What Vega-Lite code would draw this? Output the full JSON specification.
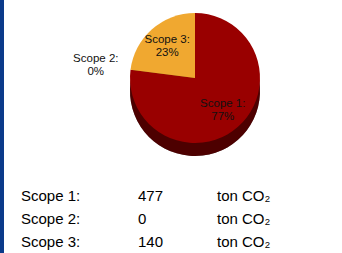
{
  "$schema": "https://vega.github.io/schema/vega-lite/v6.json",
  "padding": 0,
  "background": "white",
  "datasets": {
    "scopes": [
      {"scope": "Scope 1", "label": "Scope 1:", "share": 0.77, "tons": 477},
      {"scope": "Scope 2", "label": "Scope 2:", "share": 0.0, "tons": 0},
      {"scope": "Scope 3", "label": "Scope 3:", "share": 0.23, "tons": 140}
    ]
  },
  "config": {"view": {"stroke": null}, "font": "Liberation Sans"},
  "spacing": 0,
  "hconcat": [
    {
      "width": 4,
      "height": 253,
      "view": {"fill": "#0B3A8A", "stroke": null},
      "data": {"values": [{}]},
      "mark": {"type": "rect", "color": "#0B3A8A"},
      "encoding": {}
    },
    {
      "spacing": 28,
      "vconcat": [
        {
          "spacing": 0,
          "hconcat": [
            {
              "width": 44,
              "height": 156,
              "data": {"values": [{}]},
              "mark": {"type": "rect", "opacity": 0},
              "encoding": {}
            },
            {
              "width": 294,
              "height": 156,
              "data": {"name": "scopes"},
              "layer": [
                {
                  "mark": {"type": "arc", "radius": 65, "yOffset": 13, "fill": "#000000"},
                  "encoding": {
                    "theta": {"field": "share", "type": "quantitative", "stack": true},
                    "order": {"field": "scope"}
                  }
                },
                {
                  "mark": {"type": "arc", "radius": 65, "yOffset": 13, "fillOpacity": 0.5},
                  "encoding": {
                    "theta": {"field": "share", "type": "quantitative", "stack": true},
                    "order": {"field": "scope"},
                    "color": {
                      "field": "scope",
                      "type": "nominal",
                      "scale": {"domain": ["Scope 1", "Scope 2", "Scope 3"], "range": ["#990000", "#4F6FA8", "#F0A830"]},
                      "legend": null
                    }
                  }
                },
                {
                  "mark": {"type": "arc", "radius": 65},
                  "encoding": {
                    "theta": {"field": "share", "type": "quantitative", "stack": true},
                    "order": {"field": "scope"},
                    "color": {"field": "scope", "type": "nominal", "legend": null}
                  }
                },
                {
                  "mark": {"type": "text", "fontSize": 11.5, "dy": -6, "color": "#111111"},
                  "encoding": {
                    "theta": {"field": "share", "type": "quantitative", "stack": true},
                    "order": {"field": "scope"},
                    "radius": {"field": "share", "type": "quantitative", "scale": {"type": "linear", "domain": [0, 0.05], "range": [100, 42], "clamp": true, "zero": false}},
                    "text": {"field": "label"}
                  }
                },
                {
                  "mark": {"type": "text", "fontSize": 11.5, "dy": 7, "color": "#111111"},
                  "encoding": {
                    "theta": {"field": "share", "type": "quantitative", "stack": true},
                    "order": {"field": "scope"},
                    "radius": {"field": "share", "type": "quantitative"},
                    "text": {"field": "share", "type": "quantitative", "format": ".0%"}
                  }
                }
              ]
            }
          ]
        },
        {
          "width": 338,
          "height": 69,
          "data": {"name": "scopes"},
          "encoding": {
            "y": {
              "field": "scope",
              "type": "nominal",
              "scale": {"type": "band", "paddingInner": 0, "paddingOuter": 0},
              "axis": null
            }
          },
          "layer": [
            {
              "mark": {"type": "text", "fontSize": 15, "align": "left", "baseline": "middle", "color": "#000000"},
              "encoding": {
                "x": {"datum": "name", "type": "nominal", "scale": {"type": "point", "padding": 0, "domain": ["name", "tons", "unit"], "range": [17, 213]}, "axis": null},
                "text": {"field": "label"}
              }
            },
            {
              "mark": {"type": "text", "fontSize": 15, "align": "left", "baseline": "middle", "dx": 19, "color": "#000000"},
              "encoding": {
                "x": {"datum": "tons", "type": "nominal"},
                "text": {"field": "tons", "type": "quantitative"}
              }
            },
            {
              "mark": {"type": "text", "fontSize": 15, "align": "left", "baseline": "middle", "color": "#000000", "text": "ton CO₂"},
              "encoding": {
                "x": {"datum": "unit", "type": "nominal"}
              }
            }
          ]
        }
      ]
    }
  ]
}
